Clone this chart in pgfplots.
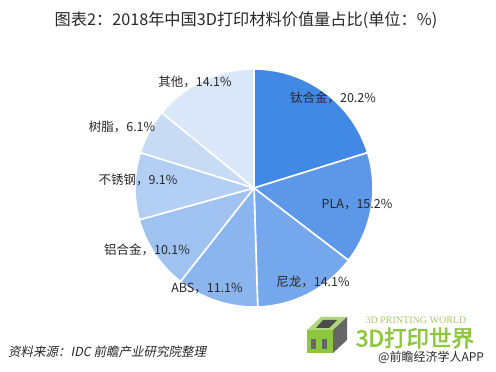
\documentclass[border=0pt]{standalone}
\usepackage{fontspec}
\usepackage{pgfplots}
\usepackage{pgfplotstable}
\pgfplotsset{compat=1.18}
\setmainfont{Noto Sans CJK SC}
\newfontfamily\cjk{Noto Sans CJK SC}
\newfontfamily\cjkit[FakeSlant=0.2]{Noto Sans CJK SC}
\newfontfamily\cjkbold[FakeBold=2.5]{Noto Sans CJK SC}
\newfontfamily\enserif{Liberation Serif}
\definecolor{slice0}{RGB}{66,137,230}
\definecolor{slice1}{RGB}{92,151,232}
\definecolor{slice2}{RGB}{116,167,236}
\definecolor{slice3}{RGB}{138,181,239}
\definecolor{slice4}{RGB}{159,194,241}
\definecolor{slice5}{RGB}{179,207,243}
\definecolor{slice6}{RGB}{199,219,245}
\definecolor{slice7}{RGB}{218,231,248}
\definecolor{txt}{RGB}{40,40,40}
\definecolor{logogreen}{RGB}{141,198,63}
\definecolor{logolight}{RGB}{170,200,110}
\pgfplotstableread{
val
20.2
15.2
14.1
11.1
10.1
9.1
6.1
14.1
}\piedata
\begin{document}
\begin{tikzpicture}
\fill[white] (0,0) rectangle (496bp,372bp);
\path[use as bounding box] (0,0) rectangle (496bp,372bp);
\begin{axis}[hide axis, x=1bp, y=1bp, xmin=0, xmax=496, ymin=0, ymax=372,
  clip=false, anchor=origin, at={(0,0)}]
\def\cum{0}
\pgfplotsforeachungrouped \i in {0,...,7}{%
  \pgfplotstablegetelem{\i}{val}\of\piedata
  \pgfmathsetmacro{\aA}{90-3.6*\cum}%
  \pgfmathsetmacro{\newcum}{\cum+\pgfplotsretval}%
  \let\cum\newcum
  \pgfmathsetmacro{\aB}{90-3.6*\cum}%
  \edef\doplot{\noexpand\addplot[fill=slice\i, draw=white, line width=1.6bp, line join=round, domain=\aB:\aA, samples=80, variable=\noexpand\t] ({254+119*cos(\noexpand\t)},{184+119*sin(\noexpand\t)}) -- (axis cs:254,184) -- cycle;}%
  \doplot
}
\begin{scope}[every node/.style={font=\cjk\fontsize{12.5bp}{14bp}\selectfont, text=txt, inner sep=0pt}]
\node at (axis cs:333,274) {钛合金，20.2\%};
\node at (axis cs:357,167) {PLA，15.2\%};
\node at (axis cs:313,90) {尼龙，14.1\%};
\node at (axis cs:207,83) {ABS，11.1\%};
\node at (axis cs:147,122) {铝合金，10.1\%};
\node at (axis cs:138,192) {不锈钢，9.1\%};
\node at (axis cs:122,245) {树脂，6.1\%};
\node at (axis cs:195,290) {其他，14.1\%};
\end{scope}
\node[font=\cjk\fontsize{16.2bp}{18bp}\selectfont, text=txt, inner sep=0pt] at (axis cs:246,352) {图表2：2018年中国3D打印材料价值量占比(单位：\%)};
\node[font=\cjkit\fontsize{12.5bp}{14bp}\selectfont, text=txt, anchor=west, inner sep=0pt] at (axis cs:8,20) {资料来源：IDC 前瞻产业研究院整理};
% logo
\fill[logogreen!70!white] (axis cs:307,42) -- (axis cs:321,55) -- (axis cs:347,55) -- (axis cs:333,42) -- cycle;
\fill[black!70] (axis cs:316,44) -- (axis cs:323,52) -- (axis cs:337,52) -- (axis cs:329,44) -- cycle;
\fill[gray!80!black] (axis cs:333,42) -- (axis cs:347,55) -- (axis cs:347,32) -- (axis cs:333,19) -- cycle;
\fill[logogreen] (axis cs:307,42) rectangle (axis cs:333,19);
\fill[black!60] (axis cs:311,23) rectangle (axis cs:316,33);
\fill[black!60] (axis cs:322,23) rectangle (axis cs:327,33);
\node[font=\enserif\fontsize{10bp}{11bp}\selectfont, text=logolight, inner sep=0pt] at (axis cs:416,52) {3D PRINTING WORLD};
\node[font=\cjkbold\fontsize{22.5bp}{24bp}\selectfont, text=logogreen, inner sep=0pt] at (axis cs:415,34) {3D打印世界};
\node[font=\cjk\fontsize{12bp}{13bp}\selectfont, text=txt, anchor=west, inner sep=0pt] at (axis cs:378,15) {@前瞻经济学人APP};
\end{axis}
\end{tikzpicture}
\end{document}
